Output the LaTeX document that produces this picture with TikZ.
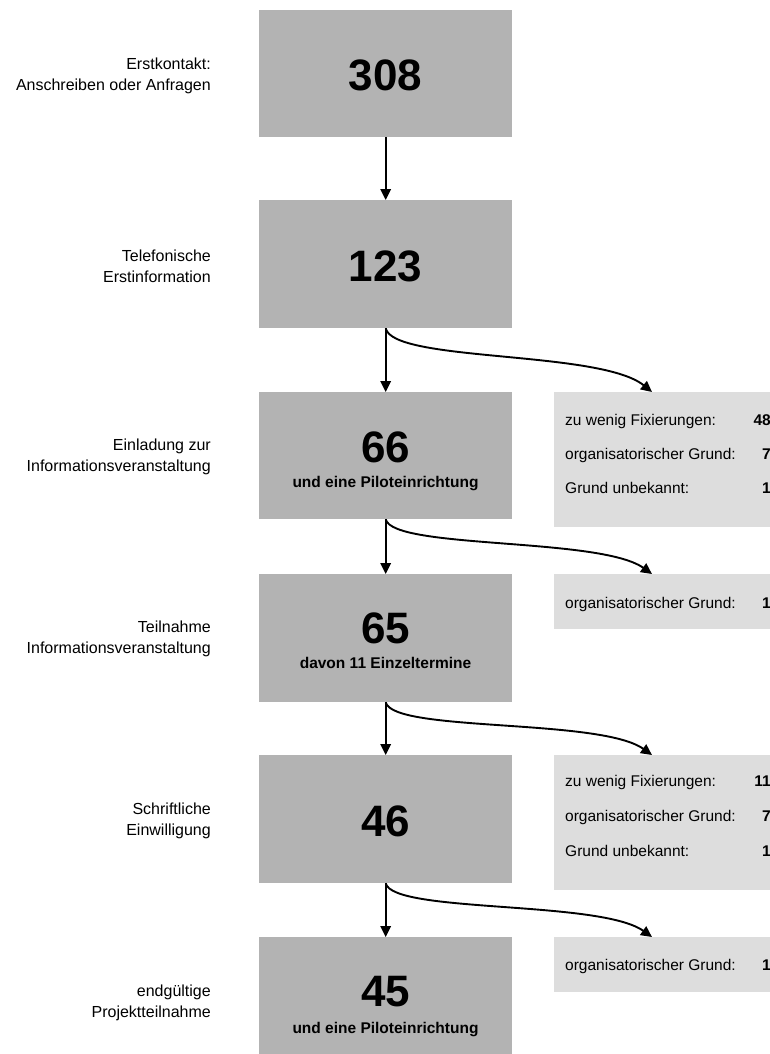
\documentclass[tikz,border=0pt]{standalone}
\usepackage{fontspec}
\setmainfont{Liberation Sans}
\usetikzlibrary{arrows.meta}
\definecolor{mainfill}{RGB}{179,179,179}
\definecolor{sidefill}{RGB}{221,221,221}
\begin{document}
\begin{tikzpicture}[x=1pt,y=-1pt,
  mainbox/.style={fill=mainfill,draw=none,minimum width=253pt,inner sep=0pt,anchor=north west},
  sidebox/.style={fill=sidefill,draw=none,minimum width=250pt,inner sep=0pt,anchor=north west},
  bignum/.style={inner sep=0pt,font=\fontsize{44}{44}\selectfont\bfseries},
  subtxt/.style={inner sep=0pt,anchor=base,font=\fontsize{15.5}{18}\selectfont\bfseries},
  lbl/.style={inner sep=0pt,anchor=east,align=right,font=\fontsize{16}{21}\selectfont},
  reason/.style={inner sep=0pt,anchor=base west,font=\fontsize{15.5}{18}\selectfont},
  cnt/.style={inner sep=0pt,anchor=base east,font=\fontsize{15.5}{18}\selectfont\bfseries},
  arr/.style={line width=1.9pt,-{Triangle[length=11pt,width=10.5pt]}},
  carr/.style={line width=1.9pt,-{Triangle[length=11pt,width=10.5pt]}}]
\useasboundingbox (0,0) rectangle (770,1054);
\clip (0,0) rectangle (770,1054);

% main boxes
\node[mainbox,minimum height=127pt] (b1) at (259,10) {};
\node[mainbox,minimum height=128pt] (b2) at (259,200) {};
\node[mainbox,minimum height=127pt] (b3) at (259,392) {};
\node[mainbox,minimum height=128pt] (b4) at (259,574) {};
\node[mainbox,minimum height=128pt] (b5) at (259,755) {};
\node[mainbox,minimum height=127pt] (b6) at (259,937) {};

% numbers
\node[bignum] (n1) at (385.5,75) {308};
\node[bignum] (n2) at (385.5,266) {123};
\node[bignum] (n3) at (385.5,447) {66};
\node[subtxt] (s3) at (385.5,487) {und eine Piloteinrichtung};
\node[bignum] (n4) at (385.5,628) {65};
\node[subtxt] (s4) at (385.5,668) {davon 11 Einzeltermine};
\node[bignum] (n5) at (385.5,821) {46};
\node[bignum] (n6) at (385.5,992) {45};
\node[subtxt] (s6) at (385.5,1033) {und eine Piloteinrichtung};

% left labels
\node[lbl] (l1) at (211,75.5) {Erstkontakt:\\Anschreiben oder Anfragen};
\node[lbl] (l2) at (211,266) {Telefonische\\Erstinformation};
\node[lbl] (l3) at (211,457) {Einladung zur\\Informationsveranstaltung};
\node[lbl] (l4) at (211,638.5) {Teilnahme\\Informationsveranstaltung};
\node[lbl] (l5) at (211,820.5) {Schriftliche\\Einwilligung};
\node[lbl] (l6) at (211,1003) {endgültige\\Projektteilnahme};

% side boxes
\node[sidebox,minimum height=135pt] (sA) at (554,392) {};
\node[sidebox,minimum height=55pt] (sB) at (554,574) {};
\node[sidebox,minimum height=135pt] (sC) at (554,755) {};
\node[sidebox,minimum height=55pt] (sD) at (554,937) {};

\node[reason] (rA1) at (565,425.5) {zu wenig Fixierungen:};
\node[cnt] (cA1) at (771,425.5) {48};
\node[reason] (rA2) at (565,459.5) {organisatorischer Grund:};
\node[cnt] (cA2) at (771,459.5) {7};
\node[reason] (rA3) at (565,493.5) {Grund unbekannt:};
\node[cnt] (cA3) at (771,493.5) {1};

\node[reason] (rB1) at (565,608.5) {organisatorischer Grund:};
\node[cnt] (cB1) at (771,608.5) {1};

\node[reason] (rC1) at (565,786) {zu wenig Fixierungen:};
\node[cnt] (cC1) at (771,786) {11};
\node[reason] (rC2) at (565,821) {organisatorischer Grund:};
\node[cnt] (cC2) at (771,821) {7};
\node[reason] (rC3) at (565,856) {Grund unbekannt:};
\node[cnt] (cC3) at (771,856) {1};

\node[reason] (rD1) at (565,970.5) {organisatorischer Grund:};
\node[cnt] (cD1) at (771,970.5) {1};

% arrow targets on side boxes
\coordinate (tA) at (652,392);
\coordinate (tB) at (652,574);
\coordinate (tC) at (652,755);
\coordinate (tD) at (652,937);

% vertical arrows
\draw[arr] (b1.south) -- (b2.north);
\draw[arr] (b2.south) -- (b3.north);
\draw[arr] (b3.south) -- (b4.north);
\draw[arr] (b4.south) -- (b5.north);
\draw[arr] (b5.south) -- (b6.north);

% curved arrows
\draw[carr] (b2.south) .. controls +(8,34) and +(-52,-42) .. (tA);
\draw[carr] (b3.south) .. controls +(8,30) and +(-52,-37) .. (tB);
\draw[carr] (b4.south) .. controls +(8,30) and +(-52,-37) .. (tC);
\draw[carr] (b5.south) .. controls +(8,30) and +(-52,-37) .. (tD);
\end{tikzpicture}
\end{document}
